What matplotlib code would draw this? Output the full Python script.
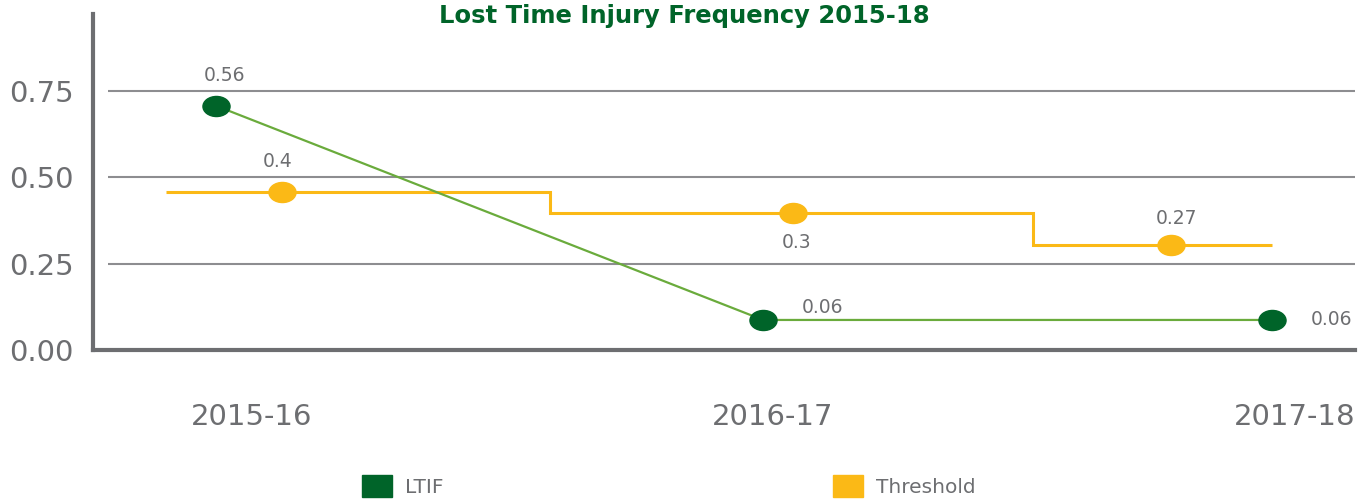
import matplotlib
matplotlib.use('Agg')
import matplotlib.pyplot as plt
from matplotlib.path import Path
from matplotlib.patches import Patch
from matplotlib.transforms import Affine2D

# data
categories = ['2015-16', '2016-17', '2017-18']
cat_pos = [1, 2, 3]

ltif_x = [0.933, 1.981, 2.956]
ltif_y = [0.707, 0.087, 0.087]
ltif_labels = ['0.56', '0.06', '0.06']

thr_x = [1.059, 2.038, 2.762]
thr_y = [0.458, 0.397, 0.304]
thr_labels = ['0.4', '0.3', '0.27']
thr_edges = [0.837, 1.573, 2.498, 2.956]

yticks = [0.0, 0.25, 0.50, 0.75]
ytick_labels = ['0.00', '0.25', '0.50', '0.75']

GREY = '#6d6e71'
DARK_GREEN = '#006429'
LINE_GREEN = '#6aab3c'
YELLOW = '#fbb916'

ellipse = Path.unit_circle().transformed(Affine2D().scale(1.35, 1.0))

fig = plt.figure(figsize=(13.72, 4.99), dpi=100)
ax = fig.add_axes([93 / 1372, 1 - 350 / 499, (1355 - 93) / 1372, (350 - 14) / 499])
ax.set_xlim(0.697, 3.115)
ax.set_ylim(0, 0.973)

# gridlines (start a little right of the spine)
ax.hlines(yticks[1:], 0.726, 3.115, color='#8d8d90', lw=1.5, zorder=1)

# threshold step line + markers
ax.stairs(thr_y, edges=thr_edges, baseline=None, color=YELLOW, lw=2.2, zorder=2)
ax.plot(thr_x, thr_y, ls='none', marker=ellipse, ms=19.5, color=YELLOW, zorder=3)

# LTIF line + markers
ax.plot(ltif_x, ltif_y, color=LINE_GREEN, lw=1.6, marker=ellipse, ms=19.5,
        mfc=DARK_GREEN, mec=DARK_GREEN, zorder=4)

ltif_off = [(6, 22), (43, 9), (43, 0)]
for x, y, t, o in zip(ltif_x, ltif_y, ltif_labels, ltif_off):
    ax.annotate(t, (x, y), xytext=o, textcoords='offset points',
                ha='center', va='center', fontsize=13.5, color=GREY)
thr_off = [(-3, 22), (3, -21), (4, 19)]
for x, y, t, o in zip(thr_x, thr_y, thr_labels, thr_off):
    ax.annotate(t, (x, y), xytext=o, textcoords='offset points',
                ha='center', va='center', fontsize=13.5, color=GREY)

for s in ['top', 'right']:
    ax.spines[s].set_visible(False)
for s in ['left', 'bottom']:
    ax.spines[s].set_color(GREY)
    ax.spines[s].set_linewidth(3)

ax.set_yticks(yticks)
ax.set_yticklabels(ytick_labels)
ax.set_xticks(cat_pos)
ax.set_xticklabels(categories)
ax.tick_params(axis='y', length=0, pad=14, labelsize=21, labelcolor=GREY)
ax.tick_params(axis='x', length=0, pad=38, labelsize=21, labelcolor=GREY)

fig.text(684 / 1372, 1 - 16 / 499, 'Lost Time Injury Frequency 2015-18',
         ha='center', va='center', fontsize=17.5, fontweight='bold', color=DARK_GREEN)

handles = [Patch(color=DARK_GREEN), Patch(color=YELLOW)]
fig.legend(handles, ['LTIF', 'Threshold'], ncol=2, loc='upper left',
           bbox_to_anchor=(352 / 1372, 1 - 465 / 499), frameon=False, borderpad=0,
           fontsize=14.5, handlelength=1.5, handleheight=1.3, handletextpad=0.65,
           columnspacing=19.3, labelcolor=GREY)

fig.savefig('out.png', dpi=100)
